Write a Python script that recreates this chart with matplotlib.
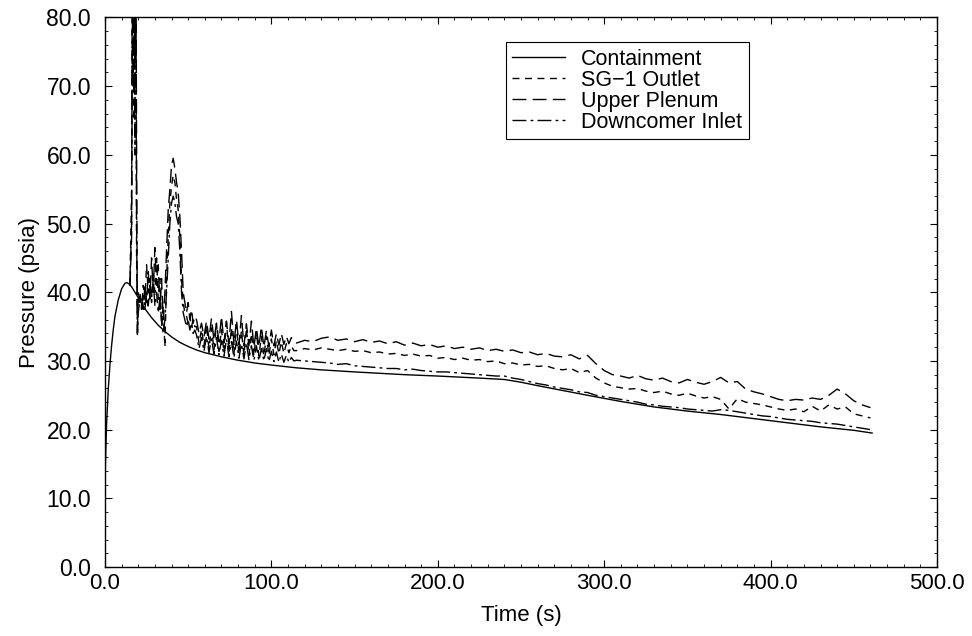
import matplotlib
matplotlib.use("Agg")
import matplotlib.pyplot as plt
from matplotlib.ticker import MultipleLocator, FormatStrFormatter

plt.rcParams['font.family'] = ['Liberation Sans', 'DejaVu Sans']

# Containment (smooth)
t_cont = [0, 0.5, 1, 2, 3, 4, 5, 6, 8, 10, 12, 13, 14, 16, 18, 20, 24, 28, 32, 36, 40, 45,
          50, 55, 60, 70, 80, 90, 100, 115, 130, 150, 165, 180, 200, 225, 240, 250, 260,
          275, 290, 310, 330, 350, 370, 390, 410, 430, 450, 461]
p_cont = [12.0, 17.0, 21.0, 26.0, 29.5, 32.3, 34.6, 36.5, 38.9, 40.5, 41.3, 41.4, 41.3,
          40.8, 40.0, 39.2, 37.6, 36.3, 35.2, 34.3, 33.5, 32.7, 32.1, 31.6, 31.2, 30.6,
          30.1, 29.7, 29.4, 29.0, 28.7, 28.4, 28.2, 28.0, 27.8, 27.5, 27.3, 26.9, 26.4,
          25.7, 25.0, 24.1, 23.3, 22.7, 22.2, 21.6, 21.0, 20.4, 19.9, 19.5]

# shared time grids for the three probe locations
t_early = [15, 16, 16.5, 17, 17.5, 18, 18.5, 19, 19.5, 20, 21, 22, 23, 24, 25, 26, 27, 28,
           29, 30, 31, 32, 33, 34, 35, 36, 37, 38, 39, 40, 41, 42, 43, 44, 45, 46, 47, 48,
           49, 50, 51, 52, 53, 54]
t_mid = [55, 56.5, 58, 59.5, 61, 62.5, 64, 65.5, 67, 68.5, 70, 71.5, 73, 74.5, 76, 77.5,
         79, 80.5, 82, 83.5, 85, 86.5, 88, 89.5, 91, 92.5, 94, 95.5, 97, 98.5, 100, 101.5,
         103, 104.5, 106, 107.5, 109, 110.5, 112, 113.5]
t_late = [115, 120, 125, 130, 135, 140, 145, 150, 155, 160, 165, 170, 175, 180, 185, 190,
          195, 200, 205, 210, 215, 220, 225, 230, 235, 240, 245, 250, 255, 260, 265, 270,
          275, 280, 285, 290, 295, 300, 305, 310, 315, 320, 325, 330, 335, 340, 345, 350,
          355, 360, 365, 370, 375, 380, 385, 390, 395, 400, 405, 410, 415, 420, 425, 430,
          435, 440, 445, 450, 455, 460]

# SG-1 Outlet
sg_early = [41.0, 55, 90, 100, 65, 95, 85, 45, 36, 38, 40, 37.5, 41, 39, 44, 40, 42, 38.5,
            43, 40, 45, 39, 42, 35, 38, 32, 42, 48, 53, 55.5, 57, 56, 53.5, 52, 48, 42,
            38.5, 37, 36.5, 35.5, 36.5, 35, 36, 35]
sg_mid = [35.0, 32.6, 34.6, 32.2, 35.2, 31.8, 34.8, 31.6, 35.4, 31.4, 34.6, 31.2, 35.6,
          31.1, 34.8, 31.0, 35.2, 30.9, 34.4, 30.8, 34.8, 30.8, 34.0, 30.7, 34.2, 30.7,
          33.6, 30.7, 33.6, 30.8, 33.2, 30.9, 33.0, 31.0, 32.8, 31.1, 32.5, 31.2, 32.2, 31.5]
sg_late = [31.5, 31.8, 31.6, 31.9, 31.7, 31.5, 31.7, 31.4, 31.5, 31.2, 31.3, 31.0, 31.1,
           30.8, 31.0, 30.7, 30.8, 30.4, 30.5, 30.2, 30.4, 30.1, 30.2, 29.9, 30.0, 29.6,
           29.7, 29.4, 29.5, 29.2, 29.3, 28.9, 28.7, 28.9, 28.3, 28.6, 27.5, 26.8, 26.3,
           26.1, 25.9, 26.0, 25.6, 25.4, 25.6, 25.2, 25.0, 25.3, 24.9, 24.6, 24.8, 24.4,
           23.0, 24.5, 24.0, 23.8, 23.6, 23.3, 23.0, 22.8, 23.0, 22.6, 23.4, 22.7, 23.6,
           23.0, 23.3, 22.3, 22.0, 21.7]

# Upper Plenum
up_early = [41.0, 48, 95, 70, 100, 75, 100, 60, 33.5, 40, 38.5, 39.5, 37.5, 41, 38.5, 43,
            39, 45, 40, 46.5, 41, 44, 37.5, 42, 36, 40, 46, 52, 55, 58.5, 59.5, 58, 56,
            54.5, 51, 46, 40, 38.5, 37, 38.5, 36, 37.5, 35.5, 36.5]
up_mid = [36.0, 34.0, 35.5, 33.5, 35.8, 33.2, 36.2, 33.0, 35.5, 32.8, 36.5, 32.6, 35.8,
          32.5, 37.2, 32.4, 36.0, 32.3, 36.6, 32.2, 35.4, 32.2, 35.8, 32.0, 34.8, 32.0,
          35.0, 32.0, 34.4, 32.1, 34.5, 32.2, 34.0, 32.3, 34.0, 32.4, 33.6, 32.5, 33.4, 32.8]
up_late = [32.6, 33.0, 32.8, 33.3, 33.5, 33.0, 33.2, 32.8, 33.1, 32.7, 32.9, 32.5, 32.8,
           32.3, 32.6, 32.2, 32.4, 32.0, 32.2, 31.8, 32.0, 31.7, 31.9, 31.5, 31.7, 31.4,
           31.6, 31.2, 31.3, 30.9, 31.1, 30.7, 30.6, 30.9, 30.3, 30.8, 29.6, 28.6, 28.0,
           27.8, 27.5, 27.9, 27.4, 27.2, 27.5, 27.0, 26.8, 27.3, 26.9, 26.6, 27.0, 27.6,
           26.8, 27.0, 25.9, 25.5, 25.2, 24.8, 24.4, 24.2, 24.4, 24.3, 24.6, 24.4, 25.0,
           25.9, 25.2, 24.2, 23.6, 23.2]

# Downcomer Inlet
dc_early = [41.0, 50, 80, 100, 90, 60, 90, 50, 34, 37, 39, 38, 39.5, 37.5, 40, 38, 41, 39,
            42, 38, 40, 37, 39, 36, 34, 36, 40, 45, 50, 53, 54, 53, 51, 50, 46, 40, 37, 36,
            35, 36, 34.5, 35.5, 34, 34.5]
dc_mid = [33.8, 31.8, 33.4, 31.4, 33.6, 31.2, 33.2, 31.0, 33.4, 30.9, 33.0, 30.7, 33.2,
          30.6, 32.8, 30.5, 32.9, 30.4, 32.5, 30.3, 32.6, 30.2, 32.2, 30.1, 32.2, 30.0,
          31.8, 30.0, 31.8, 29.9, 31.4, 29.9, 31.3, 29.8, 31.0, 29.8, 30.8, 29.8, 30.5, 30.0]
dc_late = [30.1, 30.0, 29.9, 29.8, 29.7, 29.5, 29.6, 29.3, 29.2, 29.1, 29.0, 28.9, 28.9,
           28.7, 28.8, 28.6, 28.5, 28.4, 28.4, 28.3, 28.2, 28.1, 28.0, 27.9, 27.8, 27.8,
           27.5, 27.3, 27.0, 26.7, 26.5, 26.2, 26.0, 25.8, 25.5, 25.4, 25.0, 24.8, 24.6,
           24.4, 24.2, 24.0, 23.7, 23.6, 23.4, 23.3, 23.2, 23.0, 22.9, 22.8, 22.7, 22.9,
           22.8, 22.6, 22.4, 22.2, 22.0, 21.9, 21.7, 21.5, 21.4, 21.3, 21.2, 21.0, 20.9,
           20.8, 20.6, 20.4, 20.2, 20.0]

t_probe = t_early + t_mid + t_late

fig = plt.figure(figsize=(9.72, 6.36), dpi=100)
ax = fig.add_axes([0.108, 0.1085, 0.856, 0.864])

ax.plot(t_cont, p_cont, color='black', lw=1.0, label='Containment')
ax.plot(t_probe, sg_early + sg_mid + sg_late, color='black', lw=1.0,
        dashes=(5, 4), label='SG\u22121 Outlet')
ax.plot(t_probe, up_early + up_mid + up_late, color='black', lw=1.0,
        dashes=(10, 4.5), label='Upper Plenum')
ax.plot(t_probe, dc_early + dc_mid + dc_late, color='black', lw=1.0,
        dashes=(10, 3, 2, 3), label='Downcomer Inlet')

ax.set_xlim(0, 500)
ax.set_ylim(0, 80)
ax.xaxis.set_major_locator(MultipleLocator(100))
ax.xaxis.set_minor_locator(MultipleLocator(10))
ax.yaxis.set_major_locator(MultipleLocator(10))
ax.yaxis.set_minor_locator(MultipleLocator(2))
ax.xaxis.set_major_formatter(FormatStrFormatter('%.1f'))
ax.yaxis.set_major_formatter(FormatStrFormatter('%.1f'))
ax.tick_params(which='both', direction='in', top=True, right=True)
ax.tick_params(which='major', length=5, width=0.8)
ax.tick_params(which='minor', length=2.5, width=0.6)
ax.tick_params(axis='x', which='major', pad=4, labelsize=16)
ax.tick_params(axis='y', which='major', pad=10, labelsize=16.5)
for s in ax.spines.values():
    s.set_linewidth(1.0)

ax.set_xlabel('Time (s)', fontsize=16, labelpad=8)
ax.set_ylabel('Pressure (psia)', fontsize=16, labelpad=5)

leg = ax.legend(loc='upper left', bbox_to_anchor=(0.482, 0.955), fontsize=15.5,
                frameon=True, fancybox=False, edgecolor='black', framealpha=1,
                handlelength=2.45, handletextpad=0.75, labelspacing=0.0,
                borderpad=0.3, borderaxespad=0)
leg.get_frame().set_linewidth(0.8)

fig.savefig('out.png', dpi=100)
